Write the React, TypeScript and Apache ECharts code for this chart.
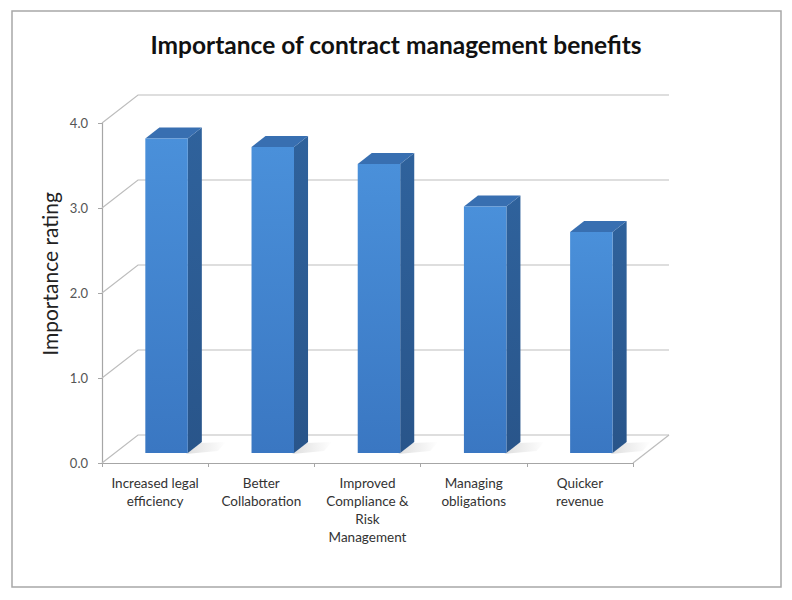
import React, { useEffect, useRef } from "react";
import * as echarts from "echarts";

// Benefit categories (line breaks as shown under the floor)
const CATEGORIES = [
  "Increased legal\nefficiency",
  "Better\nCollaboration",
  "Improved\nCompliance &\nRisk\nManagement",
  "Managing\nobligations",
  "Quicker\nrevenue",
];

// Average importance rating per benefit
const RATINGS = [3.7, 3.6, 3.4, 2.9, 2.6];

// Value-axis ticks, also used for the back-wall gridlines
const RATING_TICKS = [0, 1, 2, 3, 4];

// Pseudo-3D projection of the chart depth (pixels)
const DEPTH_DX = 36;
const DEPTH_DY = -28;
const BAR_FRONT = 0.36; // depth fraction of the bar's front face
const BAR_BACK = 0.75; // depth fraction of the bar's back face
const BAR_WIDTH = 0.4; // share of the category band
const FONT = "Lato, 'Open Sans', sans-serif";
const GRID_COLOR = "#bdbdbd";

function renderWall(params: any, api: any) {
  const v = api.value(1);
  const cs = params.coordSys;
  const x0 = cs.x;
  const x1 = cs.x + cs.width;
  const y = api.coord([0, v])[1];
  const lineStyle = { stroke: GRID_COLOR, lineWidth: 1.2, fill: "none" };
  const children: any[] = [
    {
      type: "polyline",
      shape: {
        points: [
          [x0, y],
          [x0 + DEPTH_DX, y + DEPTH_DY],
          [x1 + DEPTH_DX, y + DEPTH_DY],
        ],
      },
      style: lineStyle,
    },
  ];
  if (v === 0) {
    children.push({
      type: "line",
      shape: { x1: x1, y1: y, x2: x1 + DEPTH_DX, y2: y + DEPTH_DY },
      style: lineStyle,
    });
  }
  return { type: "group", children };
}

function renderBar(params: any, api: any) {
  const i = api.value(0);
  const v = api.value(1);
  const top = api.coord([i, v]);
  const base = api.coord([i, 0]);
  const band = api.size([1, 0])[0];
  const w = band * BAR_WIDTH;
  const fx = DEPTH_DX * BAR_FRONT;
  const fy = DEPTH_DY * BAR_FRONT;
  const bx = DEPTH_DX * (BAR_BACK - BAR_FRONT);
  const by = DEPTH_DY * (BAR_BACK - BAR_FRONT);
  const xl = top[0] - w / 2 - 1.5 + fx;
  const xr = xl + w;
  const yt = top[1] + fy;
  const yb = base[1] + fy;

  return {
    type: "group",
    children: [
      // soft shadow cast on the floor
      {
        type: "polygon",
        shape: {
          points: [
            [xr + bx - 2, yb + by + 1],
            [xr - 2, yb + 1],
            [xr + 30, yb - 2],
            [xr + bx + 24, yb + by],
          ],
        },
        style: {
          fill: {
            type: "linear",
            x: 0,
            y: 0,
            x2: 1,
            y2: 0,
            colorStops: [
              { offset: 0, color: "rgba(90,90,90,0.2)" },
              { offset: 0.5, color: "rgba(90,90,90,0.1)" },
              { offset: 1, color: "rgba(90,90,90,0)" },
            ],
          },
        },
      },
      // right side face
      {
        type: "polygon",
        shape: {
          points: [
            [xr, yt],
            [xr + bx, yt + by],
            [xr + bx, yb + by],
            [xr, yb],
          ],
        },
        style: {
          fill: {
            type: "linear",
            x: 0,
            y: 0,
            x2: 0,
            y2: 1,
            colorStops: [
              { offset: 0, color: "#2f629c" },
              { offset: 1, color: "#29558a" },
            ],
          },
        },
      },
      // top face
      {
        type: "polygon",
        shape: {
          points: [
            [xl, yt],
            [xr, yt],
            [xr + bx, yt + by],
            [xl + bx, yt + by],
          ],
        },
        style: { fill: "#386fb1" },
      },
      // front face
      {
        type: "polygon",
        shape: {
          points: [
            [xl, yt],
            [xr, yt],
            [xr, yb],
            [xl, yb],
          ],
        },
        style: {
          fill: {
            type: "linear",
            x: 0,
            y: 0,
            x2: 0,
            y2: 1,
            colorStops: [
              { offset: 0, color: "#4a90da" },
              { offset: 1, color: "#3a77c2" },
            ],
          },
        },
      },
    ],
  };
}

export default function App() {
  const ref = useRef<HTMLDivElement>(null);

  useEffect(() => {
    if (!ref.current) return;
    const chart = echarts.init(ref.current, null, { renderer: "svg" });
    chart.setOption({
      animation: false,
      backgroundColor: "#ffffff",
      title: {
        text: "Importance of contract management benefits",
        left: "center",
        top: 27,
        textStyle: {
          fontFamily: FONT,
          fontWeight: "bold",
          fontSize: 24.5,
          color: "#111111",
        },
      },
      graphic: [
        {
          type: "rect",
          shape: { x: 12, y: 11, width: 769, height: 576 },
          style: { fill: "none", stroke: "#a8a8a8", lineWidth: 1.5 },
          silent: true,
        },
        {
          type: "text",
          x: 49,
          y: 274,
          rotation: Math.PI / 2,
          style: {
            text: "Importance rating",
            fontFamily: FONT,
            fontSize: 21,
            fill: "#222222",
            align: "center",
            verticalAlign: "middle",
          },
          silent: true,
        },
      ],
      grid: { left: 102, top: 123, width: 531, height: 340 },
      xAxis: {
        type: "category",
        data: CATEGORIES,
        boundaryGap: true,
        axisLine: { lineStyle: { color: "#a6a6a6", width: 1.2 } },
        axisTick: {
          show: true,
          length: 4,
          interval: 0,
          lineStyle: { color: "#a6a6a6" },
        },
        axisLabel: {
          interval: 0,
          margin: 11,
          fontFamily: FONT,
          fontSize: 13.5,
          lineHeight: 18,
          color: "#333333",
          align: "center",
        },
        splitLine: { show: false },
      },
      yAxis: {
        type: "value",
        min: 0,
        max: 4,
        interval: 1,
        axisLine: { show: true, lineStyle: { color: "#a6a6a6", width: 1.2 } },
        axisTick: { show: true, length: 4, lineStyle: { color: "#a6a6a6" } },
        axisLabel: {
          margin: 14,
          fontFamily: FONT,
          fontSize: 13,
          color: "#555555",
          formatter: (v: number) => v.toFixed(1),
        },
        splitLine: { show: false },
      },
      series: [
        {
          type: "custom",
          name: "walls",
          silent: true,
          z: 1,
          renderItem: renderWall,
          data: RATING_TICKS.map((t) => [0, t]),
          clip: false,
        },
        {
          type: "custom",
          name: "Importance rating",
          silent: true,
          z: 2,
          renderItem: renderBar,
          data: RATINGS.map((r, i) => [i, r]),
          clip: false,
        },
      ],
    });
    return () => chart.dispose();
  }, []);

  return (
    <div
      ref={ref}
      style={{ position: "absolute", left: 0, top: 0, width: 792, height: 600 }}
    />
  );
}
